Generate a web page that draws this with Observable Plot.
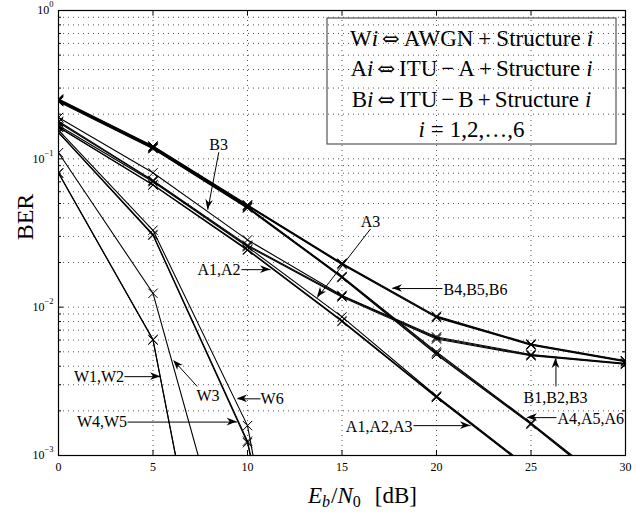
<!DOCTYPE html>
<html>
<head>
<meta charset="utf-8">
<script src="https://cdn.jsdelivr.net/npm/d3@7"></script>
<script src="https://cdn.jsdelivr.net/npm/@observablehq/plot@0.6"></script>
<style>
  html, body { margin: 0; padding: 0; background: #fff; }
</style>
</head>
<body>
<div id="chart"></div>
<script>
// ---------- data ----------
const ebn0 = [0, 5, 10, 15, 20, 25, 30];            // Eb/N0 [dB]

const W1 = [0.080, 0.0060, 3.2e-6];
const W2 = [0.0805, 0.00605, 3.3e-6];
const W3 = [0.110, 0.0124, 6.4e-5];
const W4 = [0.150, 0.0305, 0.00122, 1.2e-6];
const W5 = [0.151, 0.0309, 0.00125, 1.3e-6];
const W6 = [0.156, 0.0330, 0.00159, 6e-7];

const A1 = [0.163, 0.0665, 0.0242, 0.0080, 0.00246, 0.00079, 0.00025];
const A2 = [0.164, 0.0670, 0.0245, 0.0081, 0.00249, 0.00080, 0.00026];
const A3 = [0.168, 0.0700, 0.0255, 0.0086, 0.00252, 0.00081, 0.00026];
const A4 = [0.243, 0.117, 0.0465, 0.0158, 0.0048, 0.00162, 0.00050];
const A5 = [0.245, 0.118, 0.0470, 0.0160, 0.0049, 0.00164, 0.00051];
const A6 = [0.247, 0.119, 0.0475, 0.0161, 0.0050, 0.00166, 0.00052];

const B1 = [0.176, 0.0710, 0.0258, 0.0117, 0.0061, 0.00470, 0.00412];
const B2 = [0.179, 0.0716, 0.0262, 0.0119, 0.0062, 0.00475, 0.00415];
const B3 = [0.190, 0.0805, 0.0284, 0.0120, 0.0063, 0.00480, 0.00418];
const B4 = [0.249, 0.120, 0.0480, 0.0194, 0.0085, 0.00555, 0.00428];
const B5 = [0.251, 0.121, 0.0485, 0.0196, 0.0086, 0.00560, 0.00432];
const B6 = [0.253, 0.122, 0.0490, 0.0198, 0.0087, 0.00565, 0.00436];

const seriesNames = ["W1","W2","W3","W4","W5","W6","A1","A2","A3","A4","A5","A6","B1","B2","B3","B4","B5","B6"];
const seriesValues = [W1,W2,W3,W4,W5,W6,A1,A2,A3,A4,A5,A6,B1,B2,B3,B4,B5,B6];

// tick values
const xTicks = [0, 5, 10, 15, 20, 25, 30];
const xGrid = [5, 10, 15, 20, 25];
const yMajor = [1e-3, 1e-2, 1e-1, 1];
const yMinor = [];
for (const k of [-3, -2, -1]) for (let m = 2; m <= 9; m++) yMinor.push(m * Math.pow(10, k));
const yGrid = yMinor.concat([1e-2, 1e-1]);

// annotations (data coordinates)
const annoText   = ["B3", "A1,A2", "A3", "B4,B5,B6", "B1,B2,B3", "A4,A5,A6", "A1,A2,A3", "W1,W2", "W3", "W4,W5", "W6"];
const annoAnchor = ["middle", "end", "middle", "start", "middle", "start", "end", "end", "middle", "end", "start"];
const annoX  = [8.47, 9.63, 16.51, 20.37, 26.30, 26.40, 18.73, 3.47, 7.91, 3.63, 10.69];
const annoY  = [0.1249, 0.0179, 0.0378, 0.01314, 0.00246, 0.00177, 0.00157, 0.0034, 0.00254, 0.00168, 0.00241];
const arrowX1 = [8.48, 9.68, 16.51, 20.32, 26.32, 26.35, 18.78, 3.49, 7.34, 3.65, 10.69];
const arrowY1 = [0.1108, 0.0179, 0.0337, 0.01335, 0.00292, 0.0018, 0.00159, 0.0034, 0.00292, 0.00168, 0.00241];
const arrowX2 = [7.90, 11.22, 13.70, 17.67, 26.32, 24.81, 21.80, 5.40, 6.10, 9.455, 9.47];
const arrowY2 = [0.0453, 0.0179, 0.0116, 0.01335, 0.0045, 0.0018, 0.00159, 0.0034, 0.00436, 0.00168, 0.00241];

// ---------- tables ----------
const points = [];
seriesNames.forEach((name, s) => {
  seriesValues[s].forEach((v, i) => points.push({name, x: ebn0[i], ber: v}));
});
const annos = annoText.map((t, i) => ({
  t, anchor: annoAnchor[i], x: annoX[i], y: annoY[i],
  x1: arrowX1[i], y1: arrowY1[i], x2: arrowX2[i], y2: arrowY2[i]
}));

const serif = "'Liberation Serif', 'Times New Roman', 'DejaVu Serif', serif";
const W = 642, H = 513, mT = 10, mB = 58, mL = 58, mR = 17;
const fw = W - mL - mR, fh = H - mT - mB;

const chart = Plot.plot({
  width: W, height: H,
  marginTop: mT, marginBottom: mB, marginLeft: mL, marginRight: mR,
  style: {fontFamily: serif, fontSize: "12px", background: "#fff", color: "#000", overflow: "visible"},
  x: {domain: [0, 30], ticks: xTicks, tickSize: 0, tickPadding: 7, label: null, tickFormat: d => String(d)},
  y: {type: "log", domain: [1e-3, 1], ticks: yMajor, tickSize: 0, tickPadding: 5, label: null,
      tickFormat: d => { const e = Math.round(Math.log10(d)); return "10^" + (e < 0 ? "\u2212" + (-e) : String(e)); }},
  marks: [
    Plot.ruleX(xGrid, {stroke: "#555", strokeWidth: 1, strokeDasharray: "1,4"}),
    Plot.ruleY(yGrid, {stroke: "#555", strokeWidth: 1, strokeDasharray: "1,4"}),
    // inward tick marks
    Plot.ruleX(xTicks, {stroke: "#000", insetTop: fh - 5}),
    Plot.ruleX(xTicks, {stroke: "#000", insetBottom: fh - 5}),
    Plot.ruleY(yMajor, {stroke: "#000", insetRight: fw - 5}),
    Plot.ruleY(yMajor, {stroke: "#000", insetLeft: fw - 5}),
    Plot.ruleY(yMinor, {stroke: "#000", insetRight: fw - 3}),
    Plot.ruleY(yMinor, {stroke: "#000", insetLeft: fw - 3}),
    // BER curves
    Plot.line(points, {x: "x", y: "ber", z: "name", stroke: "#000", strokeWidth: 1.1, clip: true}),
    Plot.dot(points.filter(d => d.ber >= 1e-3), {x: "x", y: "ber", symbol: "times", r: 4.3, stroke: "#000", strokeWidth: 1, clip: true}),
    // annotation arrows (shafts)
    Plot.link(annos, {x1: "x1", y1: "y1", x2: "x2", y2: "y2", stroke: "#000", strokeWidth: 1}),
    Plot.text(annos.filter(d => d.anchor === "start"), {x: "x", y: "y", text: "t", textAnchor: "start", fontSize: 16, fill: "#000"}),
    Plot.text(annos.filter(d => d.anchor === "middle"), {x: "x", y: "y", text: "t", textAnchor: "middle", fontSize: 16, fill: "#000"}),
    Plot.text(annos.filter(d => d.anchor === "end"), {x: "x", y: "y", text: "t", textAnchor: "end", fontSize: 16, fill: "#000"}),
    Plot.frame({stroke: "#000", strokeWidth: 1.2})
  ]
});

document.getElementById("chart").appendChild(chart);
const svg = d3.select(chart);

// superscript exponents on y tick labels
svg.selectAll('g[aria-label^="y-axis"] text').each(function () {
  const s = this.textContent;
  if (s.indexOf("^") < 0) return;
  const [b, e] = s.split("^");
  const t = d3.select(this);
  t.text(b);
  t.append("tspan").attr("dy", -7).attr("font-size", 8.5).text(e);
});

// filled arrow heads computed through the plot's scales
const sx = chart.scale("x"), sy = chart.scale("y");
const gh = svg.append("g").attr("aria-label", "arrowheads").attr("fill", "#000");
annos.forEach(d => {
  const x1 = sx.apply(d.x1), y1 = sy.apply(d.y1), x2 = sx.apply(d.x2), y2 = sy.apply(d.y2);
  const dx = x2 - x1, dy = y2 - y1, len = Math.hypot(dx, dy) || 1;
  const ux = dx / len, uy = dy / len, nx = -uy, ny = ux;
  const L = 10, Wd = 3.8, N = 3;
  const p = [
    [x2, y2],
    [x2 - ux * L + nx * Wd, y2 - uy * L + ny * Wd],
    [x2 - ux * (L - N), y2 - uy * (L - N)],
    [x2 - ux * L - nx * Wd, y2 - uy * L - ny * Wd]
  ];
  gh.append("path").attr("d", "M" + p.map(q => q[0].toFixed(2) + "," + q[1].toFixed(2)).join("L") + "Z");
});

// legend text box
const boxX = mL + fw - 298, boxY = mT + 8, boxW = 289, boxH = 126;
const lg = svg.append("g").attr("aria-label", "legend box").attr("font-family", serif).attr("font-size", 23).attr("fill", "#000");
lg.append("rect").attr("x", boxX).attr("y", boxY).attr("width", boxW).attr("height", boxH)
  .attr("fill", "none").attr("stroke", "#555").attr("stroke-width", 1.2);
const legendRows = [
  [["W"], ["i", 1], ["\u21D4", 2, 4], ["AWGN", 0, 4], ["+", 0, 5], ["Structure", 0, 5], ["i", 1, 6]],
  [["A"], ["i", 1], ["\u21D4", 2, 4], ["ITU", 0, 4], ["\u2212", 0, 4], ["A", 0, 4], ["+", 0, 4], ["Structure", 0, 4], ["i", 1, 6]],
  [["B"], ["i", 1], ["\u21D4", 2, 4], ["ITU", 0, 4], ["\u2212", 0, 4], ["B", 0, 4], ["+", 0, 4], ["Structure", 0, 4], ["i", 1, 6]],
  [["i", 1], ["=", 0, 6], ["1,2,\u2026,6", 0, 6]]
];
const rowBase = [45.5, 76, 107, 137];
legendRows.forEach((row, r) => {
  const t = lg.append("text").attr("x", boxX + boxW / 2).attr("y", rowBase[r]).attr("text-anchor", "middle");
  row.forEach(seg => {
    const ts = t.append("tspan").text(seg[0]);
    if (seg[1] === 1) ts.attr("font-style", "italic");
    if (seg[1] === 2) ts.attr("font-family", "'DejaVu Serif', serif").attr("font-size", 21);
    if (seg[2]) ts.attr("dx", seg[2]);
  });
});

// axis titles
svg.append("text").attr("font-family", serif).attr("font-size", 24)
  .attr("text-anchor", "middle").attr("transform", "translate(33,217) rotate(-90)").text("BER");
const xl = svg.append("text").attr("font-family", serif).attr("font-size", 23)
  .attr("text-anchor", "middle").attr("x", mL + fw / 2 + 21).attr("y", 503);
xl.append("tspan").attr("font-style", "italic").text("E");
xl.append("tspan").attr("font-style", "italic").attr("font-size", 16).attr("dy", 4).text("b");
xl.append("tspan").attr("dy", -4).attr("dx", 1).text("/");
xl.append("tspan").attr("font-style", "italic").text("N");
xl.append("tspan").attr("font-size", 16).attr("dy", 4).text("0");
xl.append("tspan").attr("dy", -4).attr("dx", 14).text("[dB]");
</script>
</body>
</html>
